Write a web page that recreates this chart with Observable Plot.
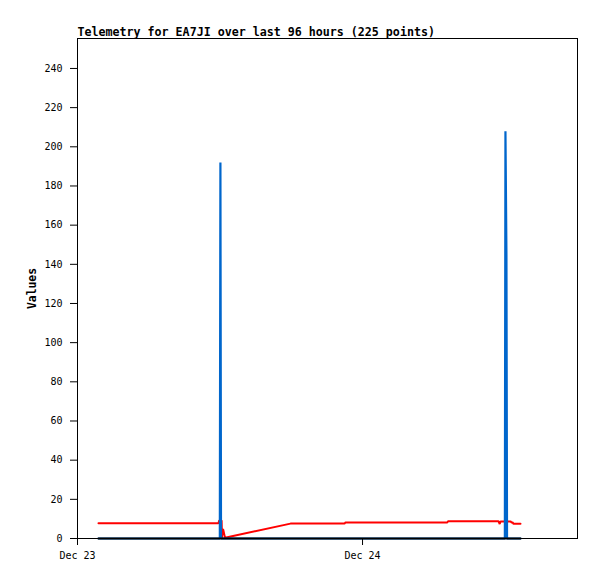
<!DOCTYPE html>
<html><head><meta charset="utf-8">
<script src="https://cdn.jsdelivr.net/npm/d3@7"></script>
<script src="https://cdn.jsdelivr.net/npm/@observablehq/plot@0.6"></script>
<style>body{margin:0;background:#fff}</style>
</head><body><div id="chart"></div>
<script>
const title = "Telemetry for EA7JI over last 96 hours (225 points)";
const yLabel = "Values";
const xDomain = ["2023-12-23T00:00Z", "2023-12-24T18:06Z"];
const xTicks = ["2023-12-23T00:00Z", "2023-12-24T00:00Z"];
const yTicks = [0, 20, 40, 60, 80, 100, 120, 140, 160, 180, 200, 220, 240];

const redTimes = ["2023-12-23T01:46Z","2023-12-23T11:52Z","2023-12-23T11:56Z","2023-12-23T12:08Z","2023-12-23T12:10Z","2023-12-23T12:12Z","2023-12-23T12:16Z","2023-12-23T12:25Z","2023-12-23T17:56Z","2023-12-23T22:29Z","2023-12-23T22:34Z","2023-12-24T07:08Z","2023-12-24T07:12Z","2023-12-24T11:27Z","2023-12-24T11:33Z","2023-12-24T11:37Z","2023-12-24T11:42Z","2023-12-24T12:28Z","2023-12-24T12:32Z","2023-12-24T12:38Z","2023-12-24T12:43Z","2023-12-24T13:18Z"];
const redValues = [7.8,7.8,9.2,9.2,0.3,4.6,4.6,0.4,7.6,7.6,8.2,8.2,8.8,8.8,7.4,8.7,8.7,8.7,8.2,8.2,7.5,7.5];

const blueTimes = ["2023-12-23T01:46Z","2023-12-23T11:59Z","2023-12-23T12:02Z","2023-12-23T12:05Z","2023-12-24T11:59Z","2023-12-24T12:02Z","2023-12-24T12:07Z","2023-12-24T12:10Z","2023-12-24T13:18Z"];
const blueValues = [0,0,192,0,0,208,145,0,0];

const blackTimes = ["2023-12-23T01:46Z","2023-12-24T13:18Z"];
const blackValues = [0,0];

const toRows = (ts, vs) => ts.map((t, i) => ({t: new Date(t), v: vs[i]}));
const red = toRows(redTimes, redValues);
const blue = toRows(blueTimes, blueValues);
const black = toRows(blackTimes, blackValues);

const chart = Plot.plot({
  width: 597, height: 579,
  marginLeft: 77, marginRight: 20, marginTop: 38, marginBottom: 41,
  style: {fontFamily: "'DejaVu Sans Mono', monospace", fontSize: "10px", color: "#000", background: "#fff"},
  x: {type: "utc", domain: xDomain.map(d => new Date(d))},
  y: {domain: [0, 255.3]},
  marks: [
    Plot.line(red, {x: "t", y: "v", stroke: "#ff0000", strokeWidth: 2, strokeLinejoin: "miter"}),
    Plot.line(blue, {x: "t", y: "v", stroke: "#0066cc", strokeWidth: 2.2, strokeLinejoin: "bevel"}),
    Plot.line(black, {x: "t", y: "v", stroke: "#000", strokeWidth: 2}),
    Plot.frame({stroke: "#000"}),
    Plot.axisY({ticks: yTicks, tickSize: 7, tickPadding: 8, label: null}),
    Plot.axisX({ticks: xTicks.map(d => new Date(d)), tickFormat: d3.utcFormat("%b %d"), tickSize: 7, tickPadding: 6, label: null}),
    Plot.text([title], {text: d => d, frameAnchor: "top-left", dy: -3, lineAnchor: "bottom", fontWeight: "bold", fontSize: 11.65}),
    Plot.text([yLabel], {text: d => d, frameAnchor: "left", dx: -45, rotate: -90, textAnchor: "middle", lineAnchor: "middle", fontWeight: "bold", fontSize: 11.4})
  ]
});
document.getElementById("chart").append(chart);
</script>
</body></html>
